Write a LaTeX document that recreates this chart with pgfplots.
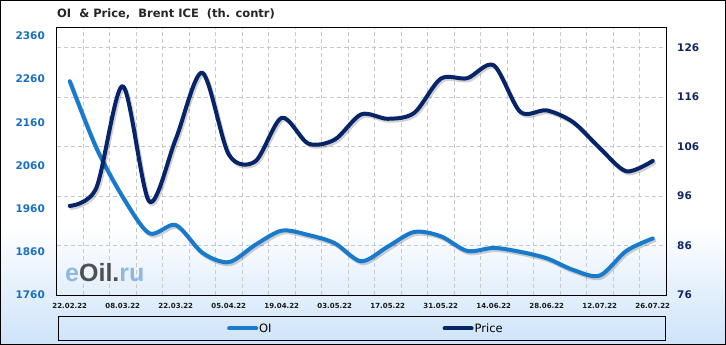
\documentclass[border=0pt]{standalone}
\usepackage{pgfplots}
\pgfplotsset{compat=1.18}
\usepackage{pgfplotstable}
\usepackage{fontspec}
\setmainfont{DejaVu Sans}
\newfontfamily\libsans{Liberation Sans}
\definecolor{oiblue}{RGB}{24,122,204}
\definecolor{pricenavy}{RGB}{8,36,104}
\definecolor{leftlab}{RGB}{24,112,196}
\definecolor{rightlab}{RGB}{16,38,100}
\definecolor{bgblue}{RGB}{206,227,249}
\definecolor{gridgray}{RGB}{200,200,200}
\definecolor{wmblue}{RGB}{120,170,215}
\definecolor{wmdark}{RGB}{40,40,40}

\pgfplotstableread{
k OI Price
0 2255 94.0
1 2101 97.6
2 1987 118.2
3 1903 94.9
4 1922 107.5
5 1858 120.9
6 1836 104.4
7 1876 103.0
8 1909 111.8
9 1899 106.6
10 1880 107.4
11 1838 112.5
12 1872 111.6
13 1906 112.8
14 1896 119.7
15 1862 119.8
16 1869 122.4
17 1860 113.0
18 1845 113.3
19 1818 110.9
20 1805 105.7
21 1862 101.0
22 1891 103.1
}\datatable

\pgfplotsset{
  common/.style={
    at={(56.5bp,50bp)}, anchor=south west,
    width=609.5bp, height=267.3bp, scale only axis,
    xmin=-0.5, xmax=22.5,
    major tick length=0pt, minor tick length=0pt,
    clip=true,
  },
  oistyle/.style={color=oiblue, line width=4bp, line cap=round, line join=round},
  pricestyle/.style={color=pricenavy, line width=4bp, line cap=round, line join=round},
}

\begin{document}
\begin{tikzpicture}
\useasboundingbox (0,0) rectangle (726bp,345bp);
\fill[white] (0,0) rectangle (726bp,345bp);
\shade[top color=white, bottom color=bgblue] (0,0) rectangle (726bp,120bp);
\draw[black, line width=1bp] (0.5bp,0.5bp) rectangle (725.5bp,344.5bp);
\draw[black, line width=0.9bp] (58.3bp,4.5bp) rectangle (665bp,29bp);

\node[anchor=west, inner sep=0pt, font=\fontsize{11.5bp}{13bp}\selectfont\bfseries, text=black!85]
  at (57bp,331bp) {OI\hspace{0.35em} \& Price,\hspace{0.35em} Brent ICE\hspace{0.35em} (th. contr)};

% grid, box, right axis labels, x labels
\begin{axis}[common,
  ymin=76, ymax=130,
  ytick={76,86,96,106,116,126},
  yticklabel pos=right,
  ymajorgrids,
  xtick={0,2,...,22},
  xticklabels={22.02.22,08.03.22,22.03.22,05.04.22,19.04.22,03.05.22,17.05.22,31.05.22,14.06.22,28.06.22,12.07.22,26.07.22},
  minor xtick={0.5,1.5,...,21.5},
  xminorgrids,
  grid style={gridgray, dash pattern=on 4bp off 3bp, line width=0.6bp},
  minor grid style={gridgray, dash pattern=on 4bp off 3bp, line width=0.6bp},
  axis line style={black, line width=0.9bp},
  /pgf/number format/assume math mode=true,
  yticklabel style={font=\fontsize{10.5bp}{12bp}\selectfont\bfseries, text=rightlab, anchor=west, inner sep=0pt, xshift=11bp},
  xticklabel style={font=\fontsize{7bp}{8bp}\selectfont\bfseries, text=black!90, anchor=north, inner sep=0pt, yshift=-7.7bp},
]
\addplot[draw=none, forget plot] coordinates {(0,80)};
\end{axis}

% OI axis (left)
\begin{axis}[common,
  ymin=1760, ymax=2379,
  ytick={1760,1860,1960,2060,2160,2260,2360},
  scaled y ticks=false,
  /pgf/number format/1000 sep={},
  /pgf/number format/assume math mode=true,
  xtick=\empty,
  axis line style={draw=none},
  yticklabel style={font=\fontsize{10.5bp}{12bp}\selectfont\bfseries, text=leftlab, anchor=east, inner sep=0pt, xshift=-11.5bp},
]
\addplot[oistyle, smooth, black, opacity=0.18, xshift=1.5bp, yshift=-2bp, forget plot] table[x=k, y=OI] {\datatable};
\addplot[oistyle, smooth] table[x=k, y=OI] {\datatable};
\end{axis}

% Price axis (hidden) with legend
\begin{axis}[common,
  ymin=76, ymax=130,
  hide axis,
  legend columns=2,
  legend image code/.code={\draw[#1] (0bp,0bp) -- (27bp,0bp);},
  legend style={at={(0.2797,-0.1253)}, anchor=west, draw=none, fill=none, inner sep=0pt,
    font=\fontsize{11.5bp}{13bp}\selectfont,
    nodes={inner sep=1bp},
    /tikz/every even column/.append style={column sep=170bp}},
]
\addlegendimage{oistyle}
\addlegendentry{OI}
\addplot[pricestyle, smooth, black, opacity=0.18, xshift=1.5bp, yshift=-2bp, forget plot] table[x=k, y=Price] {\datatable};
\addplot[pricestyle, smooth] table[x=k, y=Price] {\datatable};
\addlegendentry{Price}
\end{axis}

\node[anchor=base west, inner sep=0pt, font=\libsans\fontsize{25bp}{28bp}\selectfont\bfseries, opacity=0.8]
  at (65bp,63bp) {\textcolor{wmblue}{e}\textcolor{wmdark}{Oil.}\textcolor{wmblue}{ru}};
\end{tikzpicture}
\end{document}
